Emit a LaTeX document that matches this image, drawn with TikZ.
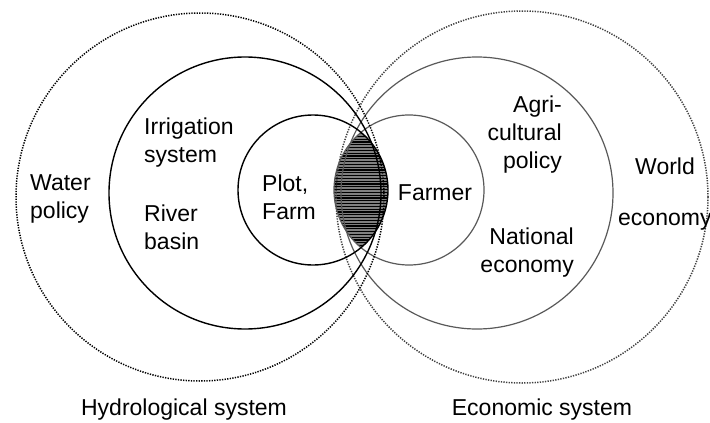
\documentclass[tikz,border=0pt]{standalone}
\usepackage{fontspec}
\setmainfont{Liberation Sans}
\usetikzlibrary{positioning}

\begin{document}
\begin{tikzpicture}[x=1pt, y=-1pt,
	hyd/.style={draw=black, line width=1.4pt},
	eco/.style={draw=black!65, line width=1.2pt},
	outer/.style={dash pattern=on 1.3pt off 1.3pt, line width=1.5pt},
	lbl/.style={font=\fontsize{23}{28}\selectfont, inner sep=0pt, align=left},
	lblr/.style={lbl, align=right} ]
	\useasboundingbox (0,0) rectangle (710,423);

	%centres of the circles
	\coordinate (hbig) at (200,197);
	\coordinate (hmid) at (245,193);
	\coordinate (hsml) at (313,190);
	\coordinate (ebig) at (522,197);
	\coordinate (emid) at (477,193);
	\coordinate (esml) at (409,190);

	%hatched overlap
	\begin{scope}
		\clip (hsml) circle (75pt);
		\clip (esml) circle (75pt);
		\fill[black!50] (esml) circle (75pt);
		\foreach \y in {128,130.8,...,254}
			\draw[line width=1.1pt] (325,\y) -- (395,\y);
	\end{scope}

	%economic side
	\draw[eco, outer, draw=black!75] (ebig) circle (186pt);
	\draw[eco] (emid) circle (136pt);
	\draw[eco] (esml) circle (75pt);

	%hydrological side
	\draw[hyd, outer] (hbig) circle (184pt);
	\draw[hyd] (hmid) circle (136pt);
	\draw[hyd] (hsml) circle (75pt);

	%labels
	\node[lbl, anchor=west]  (water)  at (30,199)  {Water\\policy};
	\node[lbl, anchor=west]  (irrig)  at (144,143) {Irrigation\\system};
	\node[lbl, anchor=west]  (river)  at (144,227) {River\\basin};
	\node[lbl, anchor=west]  (plot)   at (262,197) {Plot,\\Farm};
	\node[lbl]               (farmer) at (435,193) {Farmer};
	\node[lblr, anchor=east] (agri)   at (562,135) {Agri-\\cultural\\policy};
	\node[lblr, anchor=east] (natl)   at (574,253) {National\\economy};
	\node[lbl, anchor=west]  (world)  at (635,166) {World};
	\node[lbl, anchor=west]  (worldec) at (618,222) {economy};
	\node[lbl] (hsys) at (184,410) {Hydrological system};
	\node[lbl] (esys) at (542,410) {Economic system};
\end{tikzpicture}
\end{document}
